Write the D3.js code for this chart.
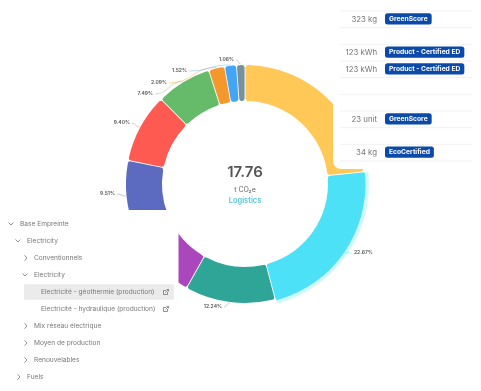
<!DOCTYPE html>
<html>
<head>
<meta charset="utf-8">
<script src="https://cdn.jsdelivr.net/npm/d3@7"></script>
<style>
  html, body { margin: 0; background: #fff; }
  svg { display: block; font-family: Inter, "Open Sans", sans-serif; filter: blur(0.3px); }
</style>
</head>
<body>
<div id="chart"></div>
<script>
// slices run clockwise from 12 o'clock, yellow and purple labels sit under the cards
const sliceValues = [23.5, 22.67, 12.24, 10.52, 9.51, 9.40, 7.49, 2.09, 1.52, 1.06];
const sliceColors = ["#ffc857", "#4ce1f6", "#2ea597", "#ab47bc", "#5c6bc0", "#ff5a52", "#66bb6a", "#f5982c", "#42a5f5", "#78909c"];
const activeSlice = 1;

const totalValue = "17.76";
const totalUnit = "t CO\u2082e";
const activeName = "Logistics";

const rowAmounts = ["323 kg", null, "123 kWh", "123 kWh", null, null, "23 unit", null, "34 kg"];
const rowBadges = ["GreenScore", null, "Product - Certified ED", "Product - Certified ED", null, null, "GreenScore", null, "EcoCertified"];

const treeNames = ["Base Empreinte", "Electricity", "Conventionnels", "Electricity", "Electricité - géothermie (production)", "Electricité - hydraulique (production)", "Mix réseau électrique", "Moyen de production", "Renouvelables", "Fuels"];
const treeDepths = [0, 1, 2, 2, 3, 3, 2, 2, 2, 1];
const treeStates = ["open", "open", "closed", "open", "leaf", "leaf", "closed", "closed", "closed", "closed"];
const treeSelected = 4;

const width = 481, height = 391;
const cx = 245, cy = 184, innerR = 83, outerR = 119;

// where each percent label goes, index matches sliceValues
const labelSpots = [null, [354, 253, "start"], [222, 307, "end"], null, [115, 194, "end"], [130, 123, "end"], [153, 94, "end"], [167, 83, "end"], [187, 71, "end"], [234, 59.5, "end"]];

const svg = d3.select("#chart").append("svg")
  .attr("width", width)
  .attr("height", height);

const pie = d3.pie().sort(null).value(d => d).padAngle(0.006);
const slices = pie(sliceValues);

const arc = d3.arc().innerRadius(innerR).outerRadius(outerR).cornerRadius(2.5);
const ringArc = d3.arc().innerRadius(outerR - 2).outerRadius(outerR + 5).cornerRadius(2);
const activeArc = d3.arc().innerRadius(innerR).outerRadius(outerR + 1.5).cornerRadius(2.5);

const donut = svg.append("g").attr("transform", `translate(${cx},${cy})`);

donut.append("path")
  .attr("d", ringArc(slices[activeSlice]))
  .attr("fill", sliceColors[activeSlice])
  .attr("opacity", 0.25);

donut.selectAll("path.slice")
  .data(slices)
  .join("path")
  .attr("class", "slice")
  .attr("d", (d, i) => i === activeSlice ? activeArc(d) : arc(d))
  .attr("fill", (d, i) => sliceColors[i]);

// leader lines start on the rim of the slice
const rimArc = d3.arc().innerRadius(outerR + 1).outerRadius(outerR + 1);
svg.append("g").selectAll("path")
  .data(slices.filter((d, i) => labelSpots[i]))
  .join("path")
  .attr("fill", "none")
  .attr("stroke-width", 0.6)
  .attr("opacity", 0.65)
  .attr("stroke", d => sliceColors[d.index])
  .attr("d", d => {
    const [rx, ry] = rimArc.centroid(d);
    const spot = labelSpots[d.index];
    const gap = spot[2] === "end" ? 2 : -2;
    return d3.line().curve(d3.curveBumpX)([[cx + rx, cy + ry], [spot[0] + gap, spot[1]]]);
  });

svg.append("g").selectAll("text")
  .data(slices.filter((d, i) => labelSpots[i]))
  .join("text")
  .attr("x", d => labelSpots[d.index][0])
  .attr("y", d => labelSpots[d.index][1])
  .attr("text-anchor", d => labelSpots[d.index][2])
  .attr("dominant-baseline", "middle")
  .attr("font-size", 5)
  .attr("font-weight", 600)
  .attr("fill", "#555")
  .text(d => d3.format(".2f")(d.data) + "%");

// cards that sit on top of the donut
svg.append("rect").attr("x", 333).attr("y", -20).attr("width", 170).attr("height", 189).attr("rx", 8).attr("fill", "#fff");
svg.append("rect").attr("x", -10).attr("y", 210).attr("width", 188.5).attr("height", 200).attr("fill", "#fff");

// centre text
svg.append("text").attr("x", cx).attr("y", 173).attr("text-anchor", "middle").attr("dominant-baseline", "middle")
  .attr("font-size", 15).attr("font-weight", 600).attr("fill", "#555").text(totalValue);
svg.append("text").attr("x", cx).attr("y", 190.5).attr("text-anchor", "middle").attr("dominant-baseline", "middle")
  .attr("font-size", 7).attr("fill", "#666").text(totalUnit);
svg.append("text").attr("x", cx).attr("y", 201).attr("text-anchor", "middle").attr("dominant-baseline", "middle")
  .attr("font-size", 7.5).attr("font-weight", 600).attr("fill", "#52c5dc").text(activeName);

// table on the right
const rowY = d3.scaleLinear().domain([0, rowAmounts.length]).range([11, 161]);

svg.append("g").selectAll("line")
  .data(d3.range(rowAmounts.length + 1))
  .join("line")
  .attr("x1", 340).attr("x2", 472)
  .attr("y1", d => rowY(d)).attr("y2", d => rowY(d))
  .attr("stroke", "#eeeeee").attr("stroke-width", 0.8);

const rows = svg.append("g").selectAll("g")
  .data(rowAmounts.map((a, i) => ({ amount: a, badge: rowBadges[i], i })).filter(d => d.amount))
  .join("g")
  .attr("transform", d => `translate(0,${rowY(d.i + 0.5)})`);

rows.append("text")
  .attr("x", 377).attr("y", 0.7)
  .attr("text-anchor", "end").attr("dominant-baseline", "middle")
  .attr("font-size", 7.8).attr("fill", "#777")
  .text(d => d.amount);

const badgeRect = rows.append("rect")
  .attr("x", 385).attr("y", -6.2).attr("height", 11.4).attr("rx", 2.5)
  .attr("fill", "#0b4aa8");

const badgeText = rows.append("text")
  .attr("x", 389).attr("y", -0.5)
  .attr("dominant-baseline", "middle")
  .attr("font-size", 6.7).attr("font-weight", 700).attr("fill", "#fff")
  .text(d => d.badge);

badgeRect.attr("width", (d, i) => badgeText.nodes()[i].getComputedTextLength() + 8);

// tree on the lower left
const treeY = d3.scaleLinear().domain([0, treeNames.length - 1]).range([224, 377]);
const treeX = d3.scaleLinear().domain([0, 3]).range([20, 41]);

svg.append("rect")
  .attr("x", 24).attr("y", treeY(treeSelected) - 7.7)
  .attr("width", 150).attr("height", 15.4).attr("rx", 1.5)
  .attr("fill", "#ebebeb");

const treeRows = svg.append("g").selectAll("g")
  .data(treeNames.map((name, i) => ({ name, depth: treeDepths[i], state: treeStates[i] })))
  .join("g")
  .attr("transform", (d, i) => `translate(${treeX(d.depth)},${treeY(i)})`);

treeRows.append("text")
  .attr("dominant-baseline", "middle")
  .attr("font-size", 6.6)
  .attr("fill", "#777")
  .text(d => d.name);

// chevrons
treeRows.filter(d => d.state !== "leaf").append("path")
  .attr("fill", "none").attr("stroke", "#777").attr("stroke-width", 0.8)
  .attr("d", d => d.state === "open" ? "M-11.5,-1.5L-9,1L-6.5,-1.5" : "M-9.5,-2.7L-7,0L-9.5,2.7");

// external link icon
treeRows.filter(d => d.state === "leaf").append("path")
  .attr("fill", "none").attr("stroke", "#666").attr("stroke-width", 0.7)
  .attr("d", "M125,-1.5H122.5V2.5H126.5V0M124.5,0.5L127.5,-2.5M125.5,-2.5H127.5V-0.5");
</script>
</body>
</html>
